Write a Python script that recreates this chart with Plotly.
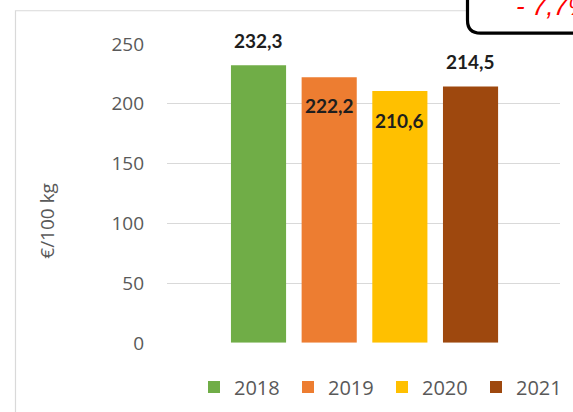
import plotly.graph_objects as go

years = ["2018", "2019", "2020", "2021"]
values = [232.3, 222.2, 210.6, 214.5]
labels = ["232,3", "222,2", "210,6", "214,5"]
colors = ["#70AD47", "#ED7D31", "#FFC000", "#9E480E"]
label_shift = [25, -28, -29, 25]
y_ticks = [0, 50, 100, 150, 200, 250]
y_title = "€/100 kg"
badge_text = "- 7,7%"

W, H = 573, 412
L, R, T, B = 167, 13, 44, 67
pw, ph = W - L - R, H - T - B

def px(x):
    return (x - L) / pw

def py(y):
    return (H - B - y) / ph

fig = go.Figure()
for i, (yr, v, c) in enumerate(zip(years, values, colors)):
    fig.add_trace(go.Bar(x=[i], y=[v], name=yr, marker=dict(color=c, line=dict(width=0)),
                         width=0.78, hoverinfo="skip"))
    fig.add_annotation(x=i, y=v, text=labels[i], showarrow=False, yshift=label_shift[i],
                       xref="x", yref="y", xanchor="center", yanchor="middle",
                       font=dict(family="Lato", size=19, color="#1e1e1e", weight="bold"))

# chart border (outer frame, partly cropped)
fig.add_shape(type="rect", xref="paper", yref="paper",
              x0=px(15.5), x1=px(640), y0=py(10.5), y1=py(460),
              line=dict(color="#D9D9D9", width=1.2), fillcolor="rgba(0,0,0,0)", layer="below")

# rounded black badge at top right
r = 13
x0, yb = 467.5, 33
path = (f"M {px(x0)},{py(-20)} L {px(x0)},{py(yb - r)} "
        f"Q {px(x0)},{py(yb)} {px(x0 + r)},{py(yb)} L {px(640)},{py(yb)} "
        f"L {px(640)},{py(-20)} Z")
fig.add_shape(type="path", xref="paper", yref="paper", path=path,
              line=dict(color="black", width=3.2), fillcolor="white")
fig.add_annotation(xref="paper", yref="paper", x=px(514), y=py(6), xanchor="left", yanchor="middle",
                   text=f"<i>{badge_text}</i>", showarrow=False,
                   font=dict(family="Liberation Sans", size=26, color="#FF0000"))

fig.add_annotation(xref="paper", yref="paper", x=px(47), y=py(222), text=y_title, textangle=-90,
                   xanchor="center", yanchor="middle",
                   showarrow=False, font=dict(family="Open Sans", size=19, color="#595959"))

fig.update_layout(
    width=W, height=H, autosize=False,
    margin=dict(l=L, r=R, t=T, b=B),
    paper_bgcolor="white", plot_bgcolor="white",
    barmode="overlay",
    showlegend=True,
    legend=dict(orientation="h", xref="container", yref="container",
                x=194 / W, y=(H - 387) / H, xanchor="left", yanchor="middle",
                entrywidth=49, font=dict(family="Open Sans", size=20, color="#595959"),
                itemclick=False, itemdoubleclick=False, tracegroupgap=0),
    xaxis=dict(range=[-1.295, 4.266], showticklabels=False, showgrid=False, zeroline=False,
               showline=False, fixedrange=True),
    yaxis=dict(range=[0, 250], tickvals=y_ticks, showgrid=True, gridcolor="#D9D9D9", gridwidth=1,
               zeroline=False, showline=False, ticks="", ticklabelstandoff=22,
               tickfont=dict(family="Open Sans", size=19, color="#595959"), fixedrange=True),
)

fig.write_html("out.html", config={"displayModeBar": False},
               post_script="document.body.style.margin='0';document.body.style.overflow='hidden';")
